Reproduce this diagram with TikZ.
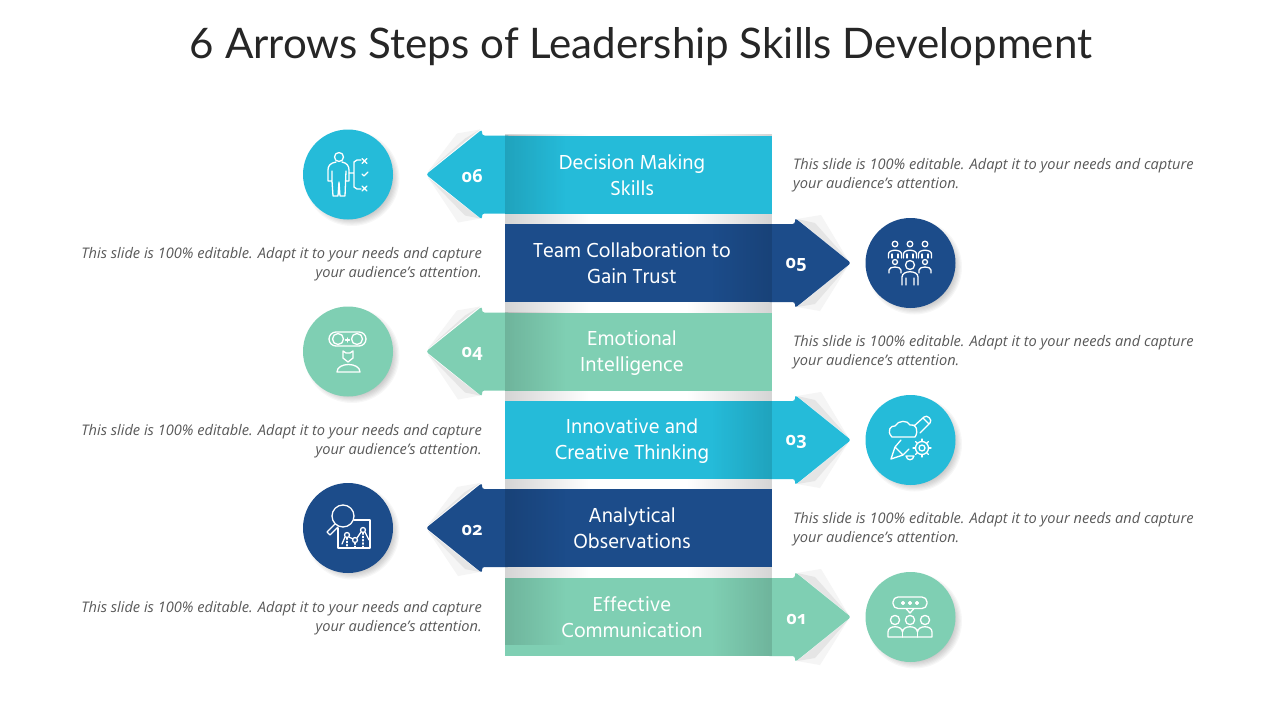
\documentclass[tikz,border=0pt]{standalone}
\usepackage{fontspec}
\usetikzlibrary{fadings}
\setmainfont{Open Sans}
\newfontfamily\titlefont{Lato}
\newfontfamily\bandfont{Hind Madurai}
\newfontfamily\numfont[Numbers=OldStyle]{Open Sans}
\definecolor{skyband}{HTML}{25BBD9}
\definecolor{navyband}{HTML}{1C4C8A}
\definecolor{mintband}{HTML}{7FCFB3}
\definecolor{inktext}{HTML}{262626}
\definecolor{desctext}{HTML}{595959}
\tikzset{
  bandbox/.style={minimum width=267pt, minimum height=78pt, inner sep=0pt},
  bandtext/.style={text=white, align=center, font=\bandfont\fontsize{20.8}{26}\selectfont},
  numtext/.style={text=white, font=\numfont\bfseries\fontsize{18}{20}\selectfont},
  desc/.style={text=desctext, inner sep=0pt, font=\itshape\fontsize{14.6}{19}\selectfont},
  foldouter/.style={fill=black!4},
  foldinner/.style={fill=black!10},
  darkedge/.style={fill=black, opacity=0.13},
  iconline/.style={draw=white, line width=1.3pt, line join=round, line cap=round},
}
\newcommand{\softshadow}[2]{
  \foreach \grow in {0,1,...,6}
    \fill[black, opacity=0.03] (#1+4,#2+4) circle ({47.5-\grow*1.2});
}
\begin{document}
\begin{tikzpicture}[x=1pt,y=-1pt]
   \useasboundingbox (0,0) rectangle (1280,720);
   \fill[white] (0,0) rectangle (1280,720);
   \node[text=inktext, font=\titlefont\fontsize{42.1}{46}\selectfont] (title) at (641,47) {6 Arrows Steps of Leadership Skills Development};
   % pale strip that shows between the bands
   \fill[black, opacity=0.17, path fading=east] (505,133) rectangle (590,656);
   \fill[black, opacity=0.17, path fading=west] (687,133) rectangle (772,656);
   % left pointing rows
   \foreach \row/\yc/\tc/\col/\lab in {
       6/174.5/175/skyband/{Decision Making\\Skills},
       4/351.5/353/mintband/{Emotional\\Intelligence},
       2/528/528.5/navyband/{Analytical\\Observations}} {
     \fill[foldouter] (428,\yc-3) -- (457,\yc-41) -- (480,\yc-45) -- cycle;
     \fill[foldouter] (428,\yc+3) -- (458,\yc+48) -- (480,\yc+44) -- cycle;
     \fill[foldinner] (428,\yc-3) -- (465,\yc-36) -- (480,\yc-45) -- cycle;
     \fill[foldinner] (428,\yc+3) -- (465,\yc+41) -- (480,\yc+44) -- cycle;
     \fill[\col, rounded corners=2.5pt] (510,\yc-39) -- (482,\yc-39) -- (482,\yc-45) -- (426,\yc) -- (482,\yc+45) -- (482,\yc+39) -- (510,\yc+39) -- cycle;
     \node[bandbox, fill=\col] (bar\row) at (638.5,\yc) {};
     \fill[darkedge, path fading=east] (505,\yc-39) rectangle (565,\yc+39);
     \node[bandtext] (lab\row) at (632,\tc) {\lab};
     \node[numtext] (num\row) at (472,\yc+2) {0\row};
     \softshadow{348}{\yc}
     \node[circle, fill=\col, minimum size=90pt, inner sep=0pt] (circ\row) at (348,\yc) {};
     \node[desc, anchor=west, align=left] (desc\row) at (793,\yc+1) {This slide is 100\% editable. Adapt it to your needs and capture\\your audience's attention.};
   }
   % right pointing rows
   \foreach \row/\yc/\tc/\col/\lab in {
       5/263/263.5/navyband/{Team Collaboration to\\Gain Trust},
       3/440/441/skyband/{Innovative and\\Creative Thinking},
       1/617/617.5/mintband/{Effective\\Communication}} {
     \fill[foldouter] (848,\yc-3) -- (821,\yc-48) -- (797,\yc-44) -- cycle;
     \fill[foldouter] (848,\yc+3) -- (820,\yc+48) -- (797,\yc+44) -- cycle;
     \fill[foldinner] (848,\yc-3) -- (815,\yc-40) -- (797,\yc-44) -- cycle;
     \fill[foldinner] (848,\yc+3) -- (815,\yc+41) -- (797,\yc+44) -- cycle;
     \fill[\col, rounded corners=2.5pt] (767,\yc-39) -- (795,\yc-39) -- (795,\yc-45) -- (851,\yc) -- (795,\yc+45) -- (795,\yc+39) -- (767,\yc+39) -- cycle;
     \node[bandbox, fill=\col] (bar\row) at (638.5,\yc) {};
     \fill[darkedge, path fading=west] (712,\yc-39) rectangle (772,\yc+39);
     \node[bandtext] (lab\row) at (632,\tc) {\lab};
     \node[numtext] (num\row) at (796,\yc+2) {0\row};
     \softshadow{910.5}{\yc}
     \node[circle, fill=\col, minimum size=90pt, inner sep=0pt] (circ\row) at (910.5,\yc) {};
     \node[desc, anchor=east, align=right] (desc\row) at (482,\yc+1) {This slide is 100\% editable. Adapt it to your needs and capture\\your audience's attention.};
   }
   % left edge of the lowest band, stops short of its foot
   \fill[darkedge, path fading=east] (505,578) rectangle (565,645);
   % icon 06, person and options
   \draw[iconline] (339,157) circle (4.5);
   \draw[iconline] (336,162) .. controls (330,163) and (328,166) .. (328,170) -- (328,181) -- (332,181) -- (332,171) (332,181) -- (333,196) -- (338,196) -- (339,182) -- (340,196) -- (345,196) -- (346,171) (346,181) -- (349,181) -- (349,170) .. controls (349,166) and (347,163) .. (342,162);
   \draw[iconline] (349,173) -- (354,173) (361,160) -- (357,160) -- (354,162) -- (354,187) -- (357,189) -- (361,189);
   \draw[iconline] (362,158.5) -- (367,163.5) (367,158.5) -- (362,163.5) (362,174) -- (364,176) -- (368,172) (362,186) -- (367,191) (367,186) -- (362,191);
   % icon 05, group of people
   \foreach \hx in {895,910,925} {
     \draw[iconline] (\hx,244) circle (2.8);
     \draw[iconline] (\hx-6.5,258) -- (\hx-6.5,254) .. controls (\hx-6.5,249) and (\hx+6.5,249) .. (\hx+6.5,254) -- (\hx+6.5,258);
     \draw[iconline] (\hx-3,258) -- (\hx-3,254) (\hx+3,258) -- (\hx+3,254);
   }
   \foreach \hx in {895,925} {
     \draw[iconline] (\hx,262) circle (2.5);
     \draw[iconline] (\hx-6,273) -- (\hx-6,270) .. controls (\hx-6,266) and (\hx+6,266) .. (\hx+6,270) -- (\hx+6,273);
   }
   \draw[iconline] (910,265) circle (4.5);
   \draw[iconline] (902,285) -- (902,277) .. controls (902,270) and (918,270) .. (918,277) -- (918,285) (906,285) -- (906,278) (914,285) -- (914,278);
   % icon 04, head with two ideas
   \draw[iconline, rounded corners=7pt] (329,332) rectangle (366,346);
   \draw[iconline] (338,339) circle (5.5) (357,339) circle (5.5);
   \draw[iconline] (345.5,340) -- (349.5,340) (347.5,338) -- (347.5,342);
   \draw[iconline] (343,351) -- (346,353) -- (350,353) -- (353,351) -- (353,358) -- (348,362) -- (343,358) -- cycle;
   \draw[iconline] (337,372) .. controls (337,362) and (360,362) .. (360,372) -- cycle;
   % icon 03, cloud pencil gear
   \draw[iconline] (892,437) .. controls (886,431) and (891,425) .. (895,426) .. controls (898,420) and (908,420) .. (910,425) .. controls (916,423) and (919,431) .. (915,437) -- cycle;
   \draw[iconline] (914,426) -- (924,417) .. controls (927,414) and (933,420) .. (930,423) -- (920,433) (923,418) -- (929,424);
   \draw[iconline] (901,440) -- (895,447) -- (891,459) -- (903,455) -- (909,449) (895,447) -- (903,455);
   \draw[iconline] (922,448) circle (3) (922,448) circle (6.5);
   \foreach \ang in {0,45,...,315}
     \draw[iconline] (922,448) ++(\ang:6.5) -- ++(\ang:2.5);
   \draw[iconline] (906,456) .. controls (907,461) and (913,461) .. (914,456) -- cycle;
   % icon 02, magnifier over chart
   \draw[iconline] (343,516) circle (11);
   \draw[iconline] (335,524) -- (327,532) -- (330,535) -- (338,527);
   \draw[iconline] (354,520) -- (370,520) -- (370,548) -- (338,548) -- (338,528);
   \draw[iconline] (347,535) circle (2.5) (355,540) circle (2.5) (363,530) circle (2.5);
   \draw[iconline] (342,544) -- (345,537) (349,537) -- (353,539) (357,538) -- (361,532) (365,532) -- (369,540);
   \draw[iconline, dotted] (347,538) -- (347,548) (355,543) -- (355,548) (363,533) -- (363,548);
   % icon 01, people talking
   \draw[iconline, rounded corners=5pt] (893,597) rectangle (927,608.5);
   \draw[iconline] (906,608.5) -- (910,613) -- (914,608.5);
   \draw[iconline] (903,603) circle (1.4) (910,603) circle (1.4) (917,603) circle (1.4);
   \foreach \hx in {895,910,925} {
     \draw[iconline] (\hx,620) circle (4.6);
   }
   \draw[iconline] (888,637) -- (888,632) .. controls (888,625) and (902,625) .. (902.5,632) .. controls (903,625) and (917,625) .. (917.5,632) .. controls (918,625) and (932,625) .. (932,632) -- (932,637) -- cycle;
   \draw[iconline] (902.5,632) -- (902.5,637) (917.5,632) -- (917.5,637);
\end{tikzpicture}
\end{document}
